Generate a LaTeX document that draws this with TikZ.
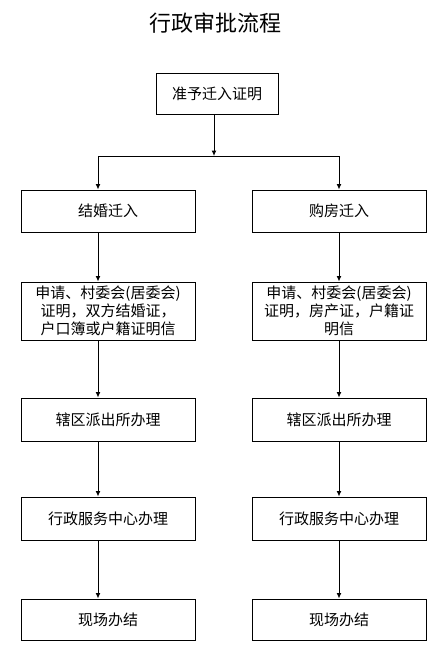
\documentclass[tikz,border=0pt]{standalone}
\usepackage{fontspec}
\setmainfont{Noto Sans CJK SC}
\usetikzlibrary{arrows.meta}
\begin{document}
\begin{tikzpicture}[x=1pt,y=-1pt,
  box/.style={draw=black, line width=1pt, minimum width=174pt, inner sep=2pt, align=center,
    font=\fontsize{15pt}{18pt}\selectfont},
  arr/.style={line width=1pt, -{Latex[length=5.5pt,width=5pt]}},
  ln/.style={line width=1pt}]
\useasboundingbox (0,0) rectangle (442,669);
\node[font=\fontsize{22pt}{25pt}\selectfont] (title) at (215,23) {行政审批流程};
\node[box, minimum width=122pt, minimum height=41pt] (top) at (217,94) {准予迁入证明};
\node[box, minimum height=42pt] (l2) at (108,211) {结婚迁入};
\node[box, minimum height=42pt] (r2) at (339,211) {购房迁入};
\node[box, minimum height=58pt] (l3) at (108,311) {申请、村委会(居委会)\\证明，双方结婚证，\\户口簿或户籍证明信};
\node[box, minimum height=58pt] (r3) at (339,311) {申请、村委会(居委会)\\证明，房产证，户籍证\\明信};
\node[box, minimum height=43pt] (l4) at (108,419.5) {辖区派出所办理};
\node[box, minimum height=43pt] (r4) at (339,419.5) {辖区派出所办理};
\node[box, minimum height=43pt] (l5) at (108,518.5) {行政服务中心办理};
\node[box, minimum height=43pt] (r5) at (339,518.5) {行政服务中心办理};
\node[box, minimum height=41pt] (l6) at (108,619.5) {现场办结};
\node[box, minimum height=41pt] (r6) at (339,619.5) {现场办结};
\coordinate (split) at (214,156);
\coordinate (lx) at (98,156);
\coordinate (rx) at (339,156);
\draw[arr] (top.south -| split) -- (split);
\draw[ln] (lx) -- (rx);
\draw[arr] (lx) -- (l2.north -| lx);
\draw[arr] (rx) -- (r2.north -| rx);
\draw[arr] (l2.south -| lx) -- (l3.north -| lx);
\draw[arr] (l3.south -| lx) -- (l4.north -| lx);
\draw[arr] (l4.south -| lx) -- (l5.north -| lx);
\draw[arr] (l5.south -| lx) -- (l6.north -| lx);
\draw[arr] (r2.south -| rx) -- (r3.north -| rx);
\draw[arr] (r3.south -| rx) -- (r4.north -| rx);
\draw[arr] (r4.south -| rx) -- (r5.north -| rx);
\draw[arr] (r5.south -| rx) -- (r6.north -| rx);
\end{tikzpicture}
\end{document}
